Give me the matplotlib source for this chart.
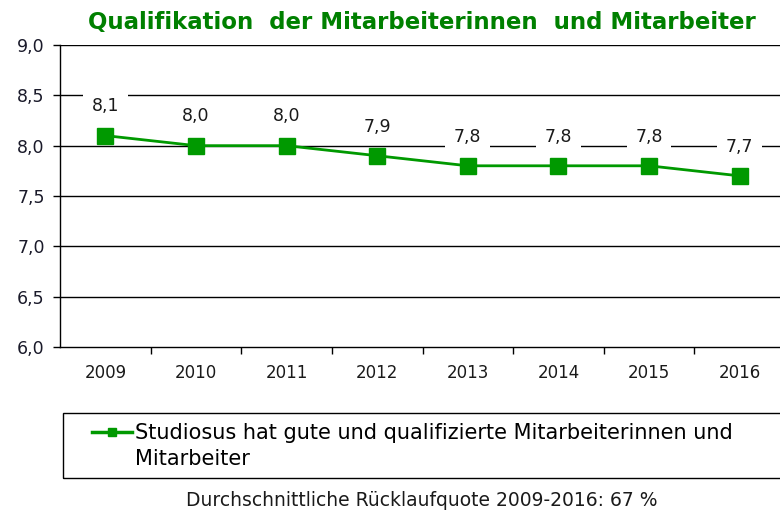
import numpy as np
import matplotlib.pyplot as plt
from matplotlib.legend_handler import HandlerLine2D
from matplotlib.patches import Rectangle

years = ['2009', '2010', '2011', '2012', '2013', '2014', '2015', '2016']
scores = [8.1, 8.0, 8.0, 7.9, 7.8, 7.8, 7.8, 7.7]
yticks = [6.0, 6.5, 7.0, 7.5, 8.0, 8.5, 9.0]
series_label = 'Studiosus hat gute und qualifizierte Mitarbeiterinnen und\nMitarbeiter'

green = '#009900'
W, H = 780, 516


class FirstLineHandler(HandlerLine2D):
    # put the legend marker next to the first line of a two-line label
    def create_artists(self, legend, orig_handle, xdescent, ydescent, width, height, fontsize, trans):
        arts = super().create_artists(legend, orig_handle, xdescent, ydescent, width, height, fontsize, trans)
        for a in arts:
            a.set_ydata(np.asarray(a.get_ydata()) + 0.7 * fontsize)
        return arts


fig = plt.figure(figsize=(W / 100, H / 100), dpi=100)
ax = fig.add_axes([60 / W, 1 - 347 / H, 725 / W, 302 / H])

x = list(range(len(years)))
ax.plot(x, scores, color=green, lw=2, marker='s', markersize=11,
        label=series_label, zorder=3)

for xi, v in zip(x, scores):
    ax.annotate(f'{v:.1f}'.replace('.', ','), (xi, v), xytext=(0, 21), textcoords='offset points',
                ha='center', va='center', fontsize=12.5, color='#1a1a1a',
                bbox=dict(facecolor='white', edgecolor='none', boxstyle='square,pad=0.5'), zorder=4)

ax.set_xlim(-0.5, len(years) - 0.5)
ax.set_ylim(6.0, 9.0)
ax.set_yticks(yticks)
ax.set_yticklabels([f'{t:.1f}'.replace('.', ',') for t in yticks], fontsize=12.5, color='#1a1a2a')
ax.set_xticks(x)
ax.set_xticklabels(years, fontsize=12, color='#1a1a1a')
ax.set_xticks([i + 0.5 for i in x[:-1]], minor=True)
ax.tick_params(axis='x', which='major', length=0, pad=12)
ax.tick_params(axis='x', which='minor', length=5, direction='out', width=1)
ax.tick_params(axis='y', length=5, direction='out', width=1, pad=6)

for t in yticks[1:]:
    ax.axhline(t, color='black', lw=1, zorder=1)
for s in ['top', 'right']:
    ax.spines[s].set_visible(False)
ax.spines['left'].set_linewidth(1)
ax.spines['bottom'].set_linewidth(1)

fig.text(422 / W, 1 - 22 / H, 'Qualifikation  der Mitarbeiterinnen  und Mitarbeiter',
         ha='center', va='center', fontsize=16.5, fontweight='bold', color='#008000')

# legend frame
fig.patches.append(Rectangle((63 / W, 1 - 478 / H), 740 / W, 65 / H, transform=fig.transFigure,
                             facecolor='none', edgecolor='black', lw=1))
leg = fig.legend(loc='center left', bbox_to_anchor=(92 / W, 1 - 446 / H), fontsize=15,
                 frameon=False, handlelength=1.9, handletextpad=0.15, borderpad=0, borderaxespad=0,
                 handler_map={plt.Line2D: FirstLineHandler()})
for t in leg.get_texts():
    t.set_linespacing(1.35)
for h in leg.legend_handles:
    h.set_markersize(6)
    h.set_linewidth(2.5)

fig.text(422 / W, 1 - 500 / H, 'Durchschnittliche Rücklaufquote 2009-2016: 67 %',
         ha='center', va='center', fontsize=13.5, color='#1a1a1a')

fig.savefig('out.png', dpi=100)
